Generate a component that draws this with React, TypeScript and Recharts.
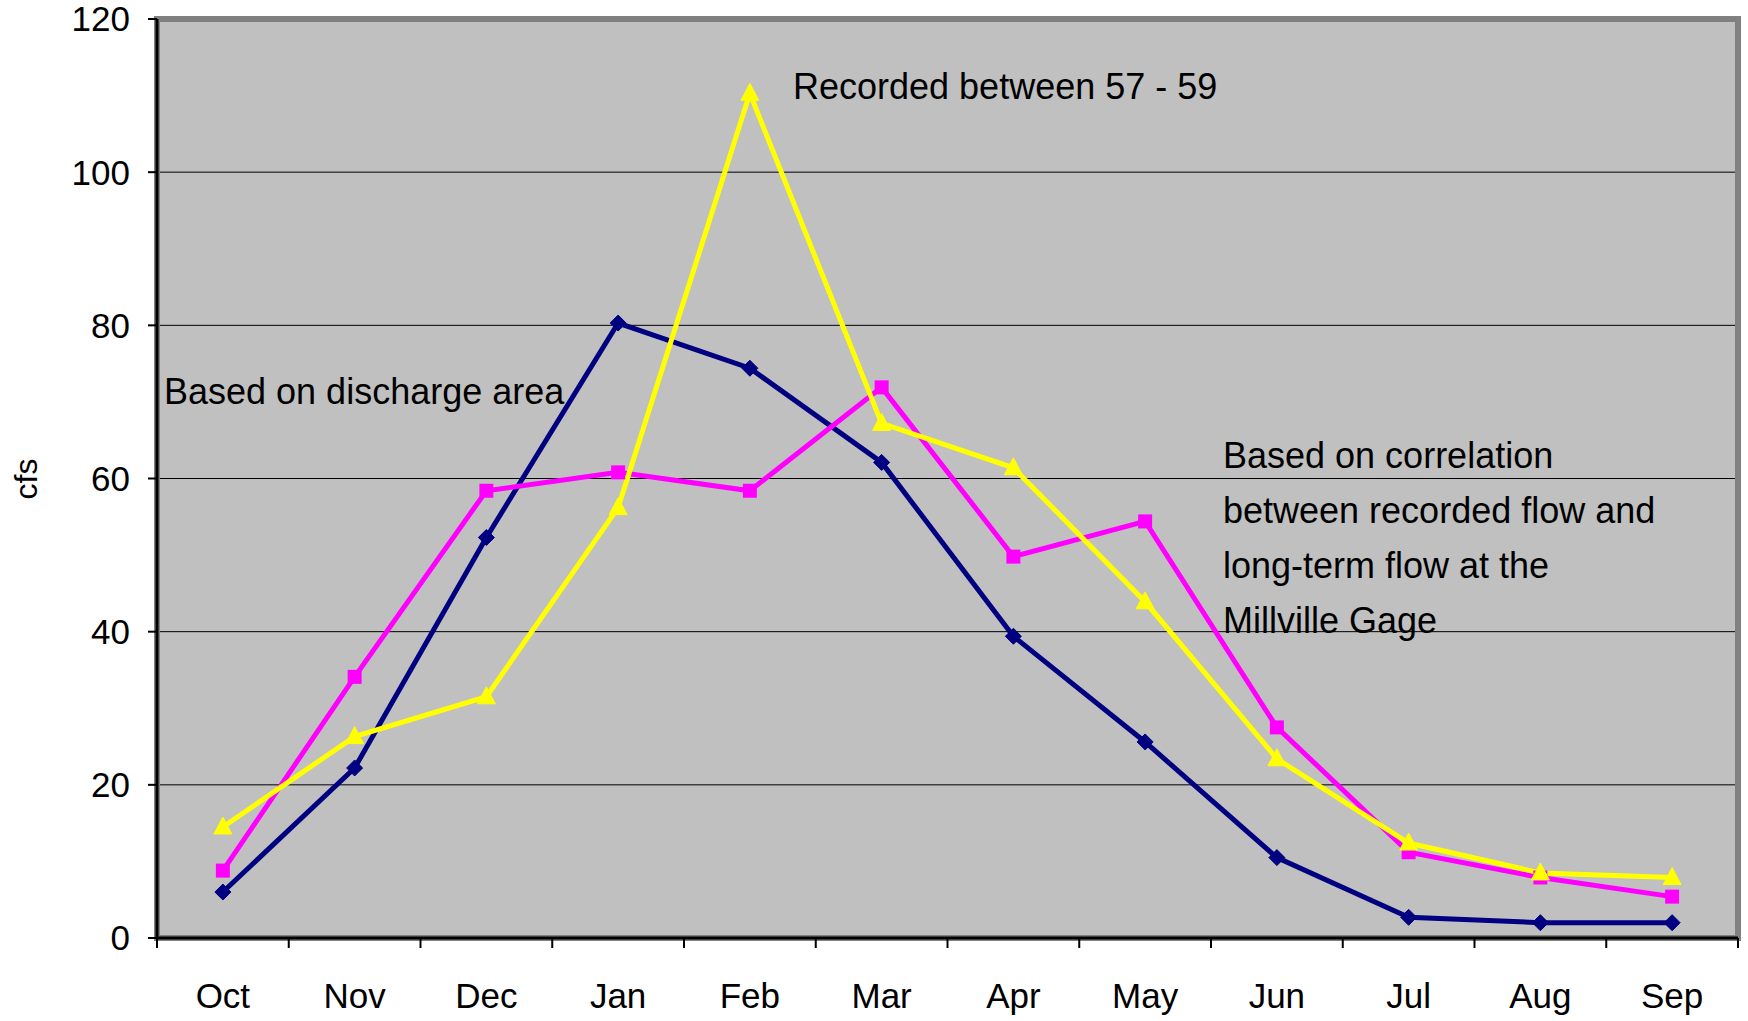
import React from "react";
import {
  LineChart,
  Line,
  XAxis,
  YAxis,
  CartesianGrid,
  ReferenceArea,
} from "recharts";

const months = ["Oct", "Nov", "Dec", "Jan", "Feb", "Mar", "Apr", "May", "Jun", "Jul", "Aug", "Sep"];
const dischargeArea = [6.0, 22.2, 52.3, 80.3, 74.4, 62.1, 39.4, 25.6, 10.5, 2.7, 2.0, 2.0];
const correlation = [8.8, 34.1, 58.4, 60.8, 58.4, 71.9, 49.8, 54.4, 27.5, 11.2, 7.9, 5.4];
const recorded = [14.5, 26.3, 31.5, 56.2, 110.3, 67.2, 61.4, 43.9, 23.4, 12.4, 8.5, 7.9];
const yTicks = [0, 20, 40, 60, 80, 100, 120];

const FONT = "'Liberation Sans', Arial, sans-serif";

// x = month index + 0.5 so the tick marks sit on the month boundaries (Excel style)
const data = months.map((m, i) => ({
  x: i + 0.5,
  month: m,
  area: dischargeArea[i],
  corr: correlation[i],
  rec: recorded[i],
}));

const xTicks: number[] = [];
for (let i = 0; i <= months.length * 2; i++) xTicks.push(i / 2);

const MonthTick = (props: any) => {
  const { x, y, payload } = props;
  const v = payload.value;
  if (Number.isInteger(v)) {
    return <line x1={x} x2={x} y1={y} y2={y + 10} stroke="#000" strokeWidth={2} />;
  }
  return (
    <text x={x} y={y + 70} textAnchor="middle" fill="#000" fontSize={35} fontFamily={FONT}>
      {months[Math.floor(v)]}
    </text>
  );
};

const Diamond = (props: any) => {
  const { cx, cy, index } = props;
  if (cx == null || cy == null) return null;
  const r = 8;
  return (
    <path
      key={`d-${index}`}
      d={`M${cx},${cy - r}L${cx + r},${cy}L${cx},${cy + r}L${cx - r},${cy}Z`}
      fill="#000080"
      stroke="#000080"
      strokeWidth={1}
    />
  );
};

const Square = (props: any) => {
  const { cx, cy, index } = props;
  if (cx == null || cy == null) return null;
  const s = 7;
  return <rect key={`s-${index}`} x={cx - s} y={cy - s} width={s * 2} height={s * 2} fill="#FF00FF" />;
};

const Triangle = (props: any) => {
  const { cx, cy, index } = props;
  if (cx == null || cy == null) return null;
  return (
    <path
      key={`t-${index}`}
      d={`M${cx},${cy - 10}L${cx + 9},${cy + 7}L${cx - 9},${cy + 7}Z`}
      fill="#FFFF00"
      stroke="#FFFF00"
      strokeWidth={1}
    />
  );
};

export default function App() {
  return (
    <div style={{ position: "absolute", left: 0, top: 0, width: 1748, height: 1021, background: "#fff" }}>
      <LineChart
        width={1748}
        height={1021}
        data={data}
        margin={{ top: 19, right: 10, left: 37, bottom: 0 }}
      >
        <CartesianGrid vertical={false} stroke="#000" strokeWidth={1} fill="#C0C0C0" fillOpacity={1} />
        <ReferenceArea
          x1={0}
          x2={12}
          y1={0}
          y2={120}
          fill="none"
          stroke="#808080"
          strokeWidth={6}
          ifOverflow="visible"
        />
        <XAxis
          dataKey="x"
          type="number"
          domain={[0, 12]}
          ticks={xTicks}
          interval={0}
          height={83}
          tickSize={0}
          tickMargin={0}
          tickLine={false}
          tick={<MonthTick />}
          axisLine={{ stroke: "#000", strokeWidth: 3 }}
        />
        <YAxis
          domain={[0, 120]}
          ticks={yTicks}
          width={120}
          tickSize={9}
          tickMargin={18}
          interval={0}
          axisLine={{ stroke: "#000", strokeWidth: 3 }}
          tickLine={{ stroke: "#000", strokeWidth: 2 }}
          tick={{ fill: "#000", fontSize: 35, fontFamily: FONT }}
        />
        <Line
          dataKey="area"
          stroke="#000080"
          strokeWidth={5}
          dot={<Diamond />}
          isAnimationActive={false}
        />
        <Line
          dataKey="corr"
          stroke="#FF00FF"
          strokeWidth={5}
          dot={<Square />}
          isAnimationActive={false}
        />
        <Line
          dataKey="rec"
          stroke="#FFFF00"
          strokeWidth={5}
          dot={<Triangle />}
          isAnimationActive={false}
        />
      </LineChart>
      <svg
        width={1748}
        height={1021}
        style={{ position: "absolute", left: 0, top: 0, pointerEvents: "none" }}
        fontFamily={FONT}
        fontSize={36}
        fill="#000"
      >
        <text transform="translate(37,479) rotate(-90)" textAnchor="middle" fontSize={32}>
          cfs
        </text>
        <text x={793} y={99}>Recorded between 57 - 59</text>
        <text x={164} y={404}>Based on discharge area</text>
        <text x={1223} y={468}>Based on correlation</text>
        <text x={1223} y={523}>between recorded flow and</text>
        <text x={1223} y={578}>long-term flow at the</text>
        <text x={1223} y={633}>Millville Gage</text>
      </svg>
    </div>
  );
}
